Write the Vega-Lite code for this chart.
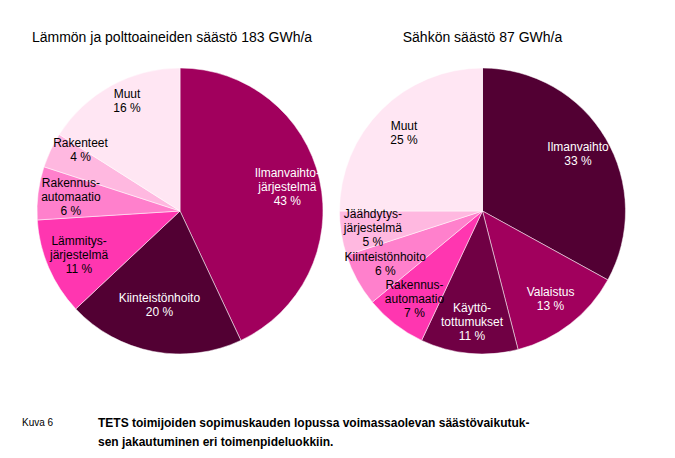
{
  "$schema": "https://vega.github.io/schema/vega-lite/v6.json",
  "background": "white",
  "padding": {"left": 22, "top": 31, "right": 5, "bottom": 5},
  "config": {"view": {"stroke": null}, "font": "Liberation Sans"},
  "datasets": {
    "heat": [
      {"i": 1, "name": "Ilmanvaihtojärjestelmä", "share": 43, "label": "Ilmanvaihto-\njärjestelmä\n43 %"},
      {"i": 2, "name": "Kiinteistönhoito", "share": 20, "label": "Kiinteistönhoito\n20 %"},
      {"i": 3, "name": "Lämmitysjärjestelmä", "share": 11, "label": "Lämmitys-\njärjestelmä\n11 %"},
      {"i": 4, "name": "Rakennusautomaatio", "share": 6, "label": "Rakennus-\nautomaatio\n6 %"},
      {"i": 5, "name": "Rakenteet", "share": 4, "label": "Rakenteet\n4 %"},
      {"i": 6, "name": "Muut", "share": 16, "label": "Muut\n16 %"}
    ],
    "elec": [
      {"i": 1, "name": "Ilmanvaihto", "share": 33, "label": "Ilmanvaihto\n33 %"},
      {"i": 2, "name": "Valaistus", "share": 13, "label": "Valaistus\n13 %"},
      {"i": 3, "name": "Käyttötottumukset", "share": 11, "label": "Käyttö-\ntottumukset\n11 %"},
      {"i": 4, "name": "Rakennusautomaatio", "share": 7, "label": "Rakennus-\nautomaatio\n7 %"},
      {"i": 5, "name": "Kiinteistönhoito", "share": 6, "label": "Kiinteistönhoito\n6 %"},
      {"i": 6, "name": "Jäähdytysjärjestelmä", "share": 5, "label": "Jäähdytys-\njärjestelmä\n5 %"},
      {"i": 7, "name": "Muut", "share": 25, "label": "Muut\n25 %"}
    ]
  },
  "resolve": {"scale": {"color": "independent"}},
  "spacing": 56,
  "vconcat": [
    {
      "spacing": 0,
      "resolve": {"scale": {"color": "independent"}},
      "hconcat": [
        {
          "width": 316,
          "height": 286,
          "title": {"text": "Lämmön ja polttoaineiden säästö 183 GWh/a", "fontSize": 14, "fontWeight": "normal", "color": "black", "offset": 22, "anchor": "middle", "dx": -8},
          "data": {"name": "heat"},
          "encoding": {
            "theta": {"field": "share", "type": "quantitative", "stack": true},
            "order": {"field": "i", "type": "quantitative"}
          },
          "layer": [
            {
              "mark": {"type": "arc", "outerRadius": 143, "stroke": "white", "strokeWidth": 0.5},
              "encoding": {
                "color": {
                  "field": "name", "type": "nominal", "legend": null,
                  "scale": {
                    "domain": ["Ilmanvaihtojärjestelmä", "Kiinteistönhoito", "Lämmitysjärjestelmä", "Rakennusautomaatio", "Rakenteet", "Muut"],
                    "range": ["#a1005d", "#520033", "#ff36b0", "#ff80cc", "#ffb8e0", "#ffe6f3"]
                  }
                }
              }
            },
            {
              "mark": {"type": "text", "radius": 110, "dy": -14, "fontSize": 12, "lineBreak": "\n", "lineHeight": 14, "align": "center", "baseline": "middle"},
              "encoding": {
                "text": {"condition": {"test": "length(split(datum.label, '\\n')) === 3", "field": "label"}, "value": ""},
                "color": {"condition": {"test": "datum.name === 'Ilmanvaihtojärjestelmä' || datum.name === 'Kiinteistönhoito'", "value": "white"}, "value": "black"}
              }
            },
            {
              "mark": {"type": "text", "radius": 110, "dy": -21, "fontSize": 12, "lineBreak": "\n", "lineHeight": 14, "align": "center", "baseline": "middle"},
              "encoding": {
                "text": {"condition": {"test": "length(split(datum.label, '\\n')) === 2", "field": "label"}, "value": ""},
                "color": {"condition": {"test": "datum.name === 'Ilmanvaihtojärjestelmä' || datum.name === 'Kiinteistönhoito'", "value": "white"}, "value": "black"}
              }
            }
          ]
        },
        {
          "width": 287,
          "height": 286,
          "title": {"text": "Sähkön säästö 87 GWh/a", "fontSize": 14, "fontWeight": "normal", "color": "black", "offset": 22, "anchor": "middle"},
          "data": {"name": "elec"},
          "encoding": {
            "theta": {"field": "share", "type": "quantitative", "stack": true},
            "order": {"field": "i", "type": "quantitative"}
          },
          "layer": [
            {
              "mark": {"type": "arc", "outerRadius": 143, "stroke": "white", "strokeWidth": 0.5},
              "encoding": {
                "color": {
                  "field": "name", "type": "nominal", "legend": null,
                  "scale": {
                    "domain": ["Ilmanvaihto", "Valaistus", "Käyttötottumukset", "Rakennusautomaatio", "Kiinteistönhoito", "Jäähdytysjärjestelmä", "Muut"],
                    "range": ["#520033", "#a1005d", "#700044", "#ff36b0", "#ff80cc", "#ffb8e0", "#ffe6f3"]
                  }
                }
              }
            },
            {
              "mark": {"type": "text", "radius": 111, "dy": -14, "fontSize": 12, "lineBreak": "\n", "lineHeight": 14, "align": "center", "baseline": "middle"},
              "encoding": {
                "text": {"condition": {"test": "length(split(datum.label, '\\n')) === 3", "field": "label"}, "value": ""},
                "color": {"condition": {"test": "indexof(['Ilmanvaihto','Valaistus','Käyttötottumukset'], datum.name) >= 0", "value": "white"}, "value": "black"}
              }
            },
            {
              "mark": {"type": "text", "radius": 111, "dy": -7, "fontSize": 12, "lineBreak": "\n", "lineHeight": 14, "align": "center", "baseline": "middle"},
              "encoding": {
                "text": {"condition": {"test": "length(split(datum.label, '\\n')) === 2", "field": "label"}, "value": ""},
                "color": {"condition": {"test": "indexof(['Ilmanvaihto','Valaistus','Käyttötottumukset'], datum.name) >= 0", "value": "white"}, "value": "black"}
              }
            }
          ]
        }
      ]
    },
    {
      "width": 600,
      "height": 40,
      "layer": [
        {
          "data": {"values": [{"col": 0, "line": 12, "text": "Kuva 6"}]},
          "mark": {"type": "text", "align": "left", "baseline": "middle", "fontSize": 10, "color": "black"},
          "encoding": {
            "x": {"field": "col", "type": "quantitative", "scale": {"domain": [0, 600]}, "axis": null},
            "y": {"field": "line", "type": "quantitative", "scale": {"domain": [0, 40], "reverse": true}, "axis": null},
            "text": {"field": "text"}
          }
        },
        {
          "data": {"values": [
            {"col": 76, "line": 12, "text": "TETS toimijoiden sopimuskauden lopussa voimassaolevan säästövaikutuk-"},
            {"col": 76, "line": 31, "text": "sen jakautuminen eri toimenpideluokkiin."}
          ]},
          "mark": {"type": "text", "align": "left", "baseline": "middle", "fontSize": 12, "fontWeight": "bold", "color": "black"},
          "encoding": {
            "x": {"field": "col", "type": "quantitative", "scale": {"domain": [0, 600]}, "axis": null},
            "y": {"field": "line", "type": "quantitative", "scale": {"domain": [0, 40], "reverse": true}, "axis": null},
            "text": {"field": "text"}
          }
        }
      ]
    }
  ]
}
